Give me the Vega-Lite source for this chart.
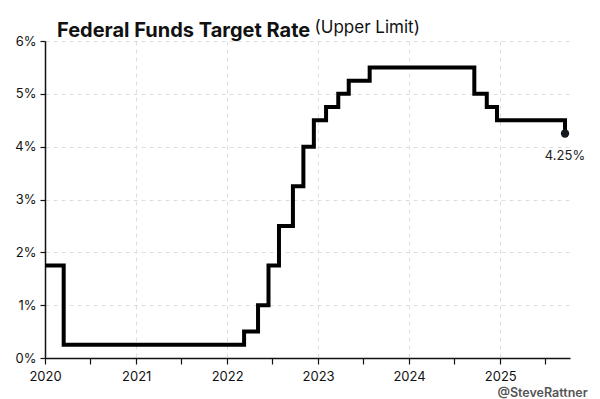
{
  "$schema": "https://vega.github.io/schema/vega-lite/v6.json",
  "width": 525,
  "height": 317,
  "autosize": "none",
  "padding": {"left": 45, "top": 41, "right": 30, "bottom": 41},
  "background": "white",
  "config": {"view": {"stroke": null}, "font": "Inter"},
  "title": {
    "text": "Federal Funds Target Rate",
    "anchor": "start",
    "frame": "group",
    "dx": 12,
    "offset": -22,
    "fontSize": 20,
    "fontWeight": "bold",
    "color": "#111111",
    "font": "Inter"
  },
  "datasets": {
    "rates": [
      {"date": "2020-01-01", "rate": 1.75, "label": ""},
      {"date": "2020-03-16", "rate": 0.25, "label": ""},
      {"date": "2022-03-10", "rate": 0.5, "label": ""},
      {"date": "2022-05-05", "rate": 1.0, "label": ""},
      {"date": "2022-06-16", "rate": 1.75, "label": ""},
      {"date": "2022-07-28", "rate": 2.5, "label": ""},
      {"date": "2022-09-22", "rate": 3.25, "label": ""},
      {"date": "2022-11-03", "rate": 4.0, "label": ""},
      {"date": "2022-12-15", "rate": 4.5, "label": ""},
      {"date": "2023-02-02", "rate": 4.75, "label": ""},
      {"date": "2023-03-23", "rate": 5.0, "label": ""},
      {"date": "2023-05-04", "rate": 5.25, "label": ""},
      {"date": "2023-07-27", "rate": 5.5, "label": ""},
      {"date": "2024-09-19", "rate": 5.0, "label": ""},
      {"date": "2024-11-08", "rate": 4.75, "label": ""},
      {"date": "2024-12-19", "rate": 4.5, "label": ""},
      {"date": "2025-09-18", "rate": 4.25, "label": "4.25%"}
    ],
    "subtitle": [{"note": "(Upper Limit)"}],
    "credit": [{"note": "@SteveRattner"}]
  },
  "layer": [
    {
      "data": {"name": "rates"},
      "mark": {"type": "line", "interpolate": "step-after", "color": "#000000", "strokeWidth": 4, "strokeJoin": "miter", "strokeCap": "butt"},
      "encoding": {
        "x": {
          "field": "date",
          "type": "temporal",
          "scale": {"type": "utc", "domain": [{"year": 2020, "month": 1, "date": 1, "utc": true}, {"year": 2025, "month": 10, "date": 8, "utc": true}]},
          "axis": {
            "title": null,
            "values": [
              {"year": 2020, "month": 1, "date": 1, "utc": true},
              {"year": 2020, "month": 7, "date": 1, "utc": true},
              {"year": 2021, "month": 1, "date": 1, "utc": true},
              {"year": 2021, "month": 7, "date": 1, "utc": true},
              {"year": 2022, "month": 1, "date": 1, "utc": true},
              {"year": 2022, "month": 7, "date": 1, "utc": true},
              {"year": 2023, "month": 1, "date": 1, "utc": true},
              {"year": 2023, "month": 7, "date": 1, "utc": true},
              {"year": 2024, "month": 1, "date": 1, "utc": true},
              {"year": 2024, "month": 7, "date": 1, "utc": true},
              {"year": 2025, "month": 1, "date": 1, "utc": true},
              {"year": 2025, "month": 7, "date": 1, "utc": true}
            ],
            "labelExpr": "utcmonth(datum.value) == 0 ? utcFormat(datum.value, '%Y') : ''",
            "labelFontSize": 13,
            "labelColor": "#111111",
            "labelPadding": 6,
            "labelFlush": false,
            "labelOverlap": false,
            "domainColor": "#111111",
            "domainWidth": 1.5,
            "tickColor": "#111111",
            "tickSize": 6,
            "tickWidth": 1.2,
            "grid": true,
            "gridColor": "#dddddd",
            "gridDash": [4, 4],
            "gridOpacity": {"condition": {"test": "utcmonth(datum.value) == 6 || utcyear(datum.value) == 2020", "value": 0}, "value": 1}
          }
        },
        "y": {
          "field": "rate",
          "type": "quantitative",
          "scale": {"domain": [0, 6], "nice": false, "zero": true},
          "axis": {
            "title": null,
            "values": [0, 1, 2, 3, 4, 5, 6],
            "labelExpr": "datum.value + '%'",
            "labelFontSize": 13,
            "labelColor": "#111111",
            "labelPadding": 4,
            "domainColor": "#111111",
            "domainWidth": 1.5,
            "tickColor": "#111111",
            "tickSize": 5,
            "tickWidth": 1.2,
            "grid": true,
            "gridColor": "#dddddd",
            "gridDash": [4, 4]
          }
        }
      }
    },
    {
      "data": {"name": "rates"},
      "transform": [{"filter": "datum.label != ''"}],
      "mark": {"type": "point", "filled": true, "color": "#14181f", "size": 70, "opacity": 1},
      "encoding": {
        "x": {"field": "date", "type": "temporal"},
        "y": {"field": "rate", "type": "quantitative"}
      }
    },
    {
      "data": {"name": "rates"},
      "transform": [{"filter": "datum.label != ''"}],
      "mark": {"type": "text", "dy": 23, "fontSize": 13, "fontWeight": "normal", "color": "#222222", "align": "center"},
      "encoding": {
        "x": {"field": "date", "type": "temporal"},
        "y": {"field": "rate", "type": "quantitative"},
        "text": {"field": "label"}
      }
    },
    {
      "data": {"name": "subtitle"},
      "mark": {"type": "text", "align": "left", "baseline": "alphabetic", "fontSize": 17, "fontWeight": "normal", "color": "#111111", "clip": false},
      "encoding": {
        "x": {"datum": {"year": 2022, "month": 12, "date": 18, "utc": true}, "type": "temporal"},
        "y": {"datum": 6.16, "type": "quantitative"},
        "text": {"field": "note"}
      }
    },
    {
      "data": {"name": "credit"},
      "mark": {"type": "text", "align": "right", "baseline": "middle", "fontSize": 12.5, "fontWeight": 600, "color": "#555555", "clip": false},
      "encoding": {
        "x": {"datum": {"year": 2025, "month": 12, "date": 18, "utc": true}, "type": "temporal"},
        "y": {"datum": -0.66, "type": "quantitative"},
        "text": {"field": "note"}
      }
    }
  ]
}
